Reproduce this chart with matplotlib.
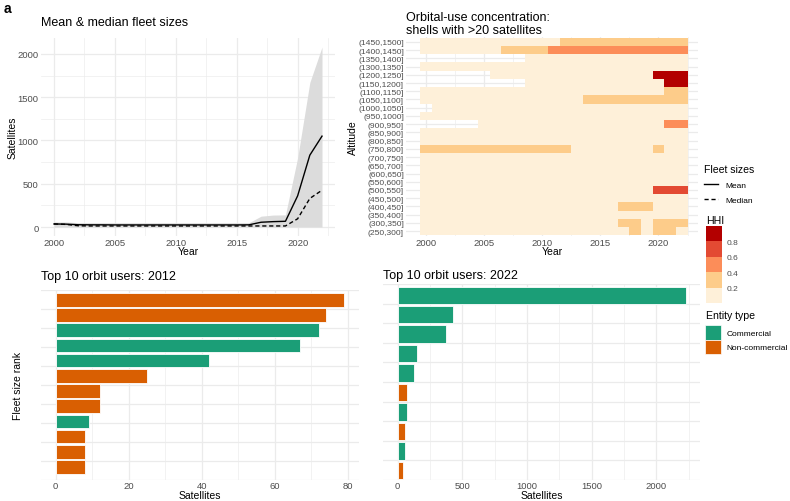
import matplotlib
matplotlib.use("Agg")
import matplotlib.pyplot as plt
import matplotlib as mpl
import numpy as np
from matplotlib.colors import ListedColormap, BoundaryNorm
from matplotlib.lines import Line2D
from matplotlib.patches import Patch
from matplotlib.ticker import MultipleLocator, LinearLocator, NullFormatter

plt.rcParams['font.family'] = ['Liberation Sans', 'DejaVu Sans']

# ---- panel a: mean & median fleet sizes
years = [2000, 2001, 2002, 2003, 2004, 2005, 2006, 2007, 2008, 2009, 2010, 2011,
         2012, 2013, 2014, 2015, 2016, 2017, 2018, 2019, 2020, 2021, 2022]
fleet_mean = [35, 33, 26, 25, 25, 24, 24, 24, 24, 24, 24, 24,
              24, 24, 24, 24, 25, 55, 62, 66, 360, 830, 1050]
fleet_median = [35, 30, 14, 12, 12, 12, 12, 12, 12, 12, 12, 12,
                12, 12, 12, 12, 12, 12, 12, 12, 95, 330, 425]
fleet_upper = [58, 58, 50, 50, 50, 50, 50, 50, 50, 50, 50, 50,
               50, 50, 50, 50, 50, 125, 138, 140, 800, 1670, 2080]
fleet_lower = [0, 0, 0, 0, 0, 0, 0, 0, 0, 0, 0, 0,
               0, 0, 0, 0, 0, 0, 0, 0, 0, 0, 0]

# ---- panel b: HHI by altitude shell (None = no data)
alt_bins = ["(250,300]", "(300,350]", "(350,400]", "(400,450]", "(450,500]",
            "(500,550]", "(550,600]", "(600,650]", "(650,700]", "(700,750]",
            "(750,800]", "(800,850]", "(850,900]", "(900,950]", "(950,1000]",
            "(1000,1050]", "(1050,1100]", "(1100,1150]", "(1150,1200]",
            "(1200,1250]", "(1300,1350]", "(1350,1400]", "(1400,1450]",
            "(1450,1500]"]
N = None
hhi = [
    [.1, .1, .1, .1, .1, .1, .1, .1, .1, .1, .1, .1, .1, .1, .1, .1, .1, .1, .3, .1, .3, .3, .1],
    [.1, .1, .1, .1, .1, .1, .1, .1, .1, .1, .1, .1, .1, .1, .1, .1, .1, .3, .3, .1, .3, .3, .3],
    [.1, .1, .1, .1, .1, .1, .1, .1, .1, .1, .1, .1, .1, .1, .1, .1, .1, .1, .1, .1, .1, .1, .1],
    [.1, .1, .1, .1, .1, .1, .1, .1, .1, .1, .1, .1, .1, .1, .1, .1, .1, .3, .3, .3, .1, .1, .1],
    [.1, .1, .1, .1, .1, .1, .1, .1, .1, .1, .1, .1, .1, .1, .1, .1, .1, .1, .1, .1, .1, .1, .1],
    [.1, .1, .1, .1, .1, .1, .1, .1, .1, .1, .1, .1, .1, .1, .1, .1, .1, .1, .1, .1, .7, .7, .7],
    [.1, .1, .1, .1, .1, .1, .1, .1, .1, .1, .1, .1, .1, .1, .1, .1, .1, .1, .1, .1, .1, .1, .1],
    [.1, .1, .1, .1, .1, .1, .1, .1, .1, .1, .1, .1, .1, .1, .1, .1, .1, .1, .1, .1, .1, .1, .1],
    [.1, .1, .1, .1, .1, .1, .1, .1, .1, .1, .1, .1, .1, .1, .1, .1, .1, .1, .1, .1, .1, .1, .1],
    [.1, .1, .1, .1, .1, .1, .1, .1, .1, .1, .1, .1, .1, .1, .1, .1, .1, .1, .1, .1, .1, .1, .1],
    [.3, .3, .3, .3, .3, .3, .3, .3, .3, .3, .3, .3, .3, .1, .1, .1, .1, .1, .1, .1, .3, .1, .1],
    [.1, .1, .1, .1, .1, .1, .1, .1, .1, .1, .1, .1, .1, .1, .1, .1, .1, .1, .1, .1, .1, .1, .1],
    [.1, .1, .1, .1, .1, .1, .1, .1, .1, .1, .1, .1, .1, .1, .1, .1, .1, .1, .1, .1, .1, .1, .1],
    [N, N, N, N, N, .1, .1, .1, .1, .1, .1, .1, .1, .1, .1, .1, .1, .1, .1, .1, .1, .5, .5],
    [.1, .1, .1, .1, .1, .1, .1, .1, .1, .1, .1, .1, .1, .1, .1, .1, .1, .1, .1, .1, .1, .1, .1],
    [N, .1, .1, .1, .1, .1, .1, .1, .1, .1, .1, .1, .1, .1, .1, .1, .1, .1, .1, .1, .1, .1, .1],
    [.1, .1, .1, .1, .1, .1, .1, .1, .1, .1, .1, .1, .1, .1, .3, .3, .3, .3, .3, .3, .3, .3, .3],
    [.1, .1, .1, .1, .1, .1, .1, .1, .1, .1, .1, .1, .1, .1, .1, .1, .1, .1, .1, .1, .1, .3, .3],
    [N, N, N, N, N, N, N, N, N, .1, .1, .1, .1, .1, .1, .1, .1, .1, .1, .1, .1, .9, .9],
    [N, N, N, N, N, N, .1, .1, .1, .1, .1, .1, .1, .1, .1, .1, .1, .1, .1, .1, .9, .9, .9],
    [.1, .1, .1, .1, .1, .1, .1, .1, .1, .1, .1, .1, .1, .1, .1, .1, .1, .1, .1, .1, .1, .1, .1],
    [N, N, N, N, N, N, N, N, N, .1, .1, .1, .1, .1, .1, .1, .1, .1, .1, .1, .1, .1, .1],
    [.1, .1, .1, .1, .1, .1, .1, .3, .3, .3, .3, .5, .5, .5, .5, .5, .5, .5, .5, .5, .5, .5, .5],
    [.1, .1, .1, .1, .1, .1, .1, .1, .1, .1, .1, .1, .3, .3, .3, .3, .3, .3, .3, .3, .3, .3, .3],
]
hhi_breaks = [0, 0.2, 0.4, 0.6, 0.8, 1.0]
hhi_colors = ["#FEF0D9", "#FDCC8A", "#FC8D59", "#E34A33", "#B30000"]

# ---- panels c, d: top orbit users
top2012_sats = [79, 74, 72, 67, 42, 25, 12, 12, 9, 8, 8, 8]
top2012_type = ["Non-commercial", "Non-commercial", "Commercial", "Commercial",
                "Commercial", "Non-commercial", "Non-commercial", "Non-commercial",
                "Commercial", "Non-commercial", "Non-commercial", "Non-commercial"]
top2022_sats = [2229, 428, 376, 147, 124, 72, 72, 59, 57, 44]
top2022_type = ["Commercial", "Commercial", "Commercial", "Commercial", "Commercial",
                "Non-commercial", "Commercial", "Non-commercial", "Commercial",
                "Non-commercial"]
type_colors = {"Commercial": "#1B9E77", "Non-commercial": "#D95F02"}

W, H = 790, 502
fig = plt.figure(figsize=(W / 100, H / 100), dpi=100)

GRID = "#EBEBEB"
TICK = "#4D4D4D"


def panel(x0, y0, x1, y1):
    return fig.add_axes([x0 / W, 1 - y1 / H, (x1 - x0) / W, (y1 - y0) / H])


def minimal(ax):
    for s in ax.spines.values():
        s.set_visible(False)
    ax.set_axisbelow(True)
    ax.tick_params(which="both", length=0, labelsize=6.8, labelcolor=TICK, pad=1.5)
    ax.grid(which="major", color=GRID, linewidth=0.9)
    ax.grid(which="minor", color=GRID, linewidth=0.45)


# panel a
ax1 = panel(40.6, 39, 335.4, 237)
ax1.fill_between(years, fleet_lower, fleet_upper, color="#DCDCDC", linewidth=0)
ax1.plot(years, fleet_mean, color="black", linewidth=1.0)
ax1.plot(years, fleet_median, color="black", linewidth=1.0, linestyle=(0, (3, 2)))
ax1.set_xlim(1998.9, 2023.1)
ax1.set_ylim(-104, 2184)
ax1.xaxis.set_major_locator(MultipleLocator(5))
ax1.xaxis.set_minor_locator(MultipleLocator(2.5))
ax1.yaxis.set_major_locator(MultipleLocator(500))
ax1.yaxis.set_minor_locator(MultipleLocator(250))
minimal(ax1)
ax1.set_title("Mean & median fleet sizes", loc="left", fontsize=9, pad=9)
ax1.set_xlabel("Year", fontsize=7.5, labelpad=-1)
ax1.set_ylabel("Satellites", fontsize=7.5, labelpad=0)

# panel b
ax2 = panel(406, 38, 698, 237)
cmap = ListedColormap(hhi_colors)
norm = BoundaryNorm(hhi_breaks, cmap.N)
z = np.ma.masked_invalid(np.array(hhi, dtype=float))
x_edges = np.append(np.array(years) - 0.5, years[-1] + 0.5)
y_edges = np.arange(len(alt_bins) + 1) - 0.5
ax2.pcolormesh(x_edges, y_edges, z, cmap=cmap, norm=norm)
ax2.set_xlim(1998.3, 2023.4)
ax2.set_ylim(-0.6, len(alt_bins) - 0.4)
ax2.set_yticks(range(len(alt_bins)))
ax2.set_yticklabels(alt_bins)
ax2.xaxis.set_major_locator(MultipleLocator(5))
ax2.xaxis.set_minor_locator(MultipleLocator(2.5))
minimal(ax2)
ax2.tick_params(axis="y", labelsize=6.1)
ax2.set_title("Orbital-use concentration:\nshells with >20 satellites", loc="left",
              fontsize=9, pad=3, linespacing=1.1)
ax2.set_xlabel("Year", fontsize=7.5, labelpad=-1)
ax2.set_ylabel("Altitude", fontsize=7.5, labelpad=0)


def top_users(ax, sats, kinds, title, step, ylim, pad):
    pos = np.arange(1, len(sats) + 1)
    ax.barh(pos, sats, height=0.9, color=[type_colors[k] for k in kinds],
            edgecolor="white", linewidth=0.6)
    ax.set_ylim(*ylim)
    ax.set_xlim(-0.05 * max(sats), 1.05 * max(sats))
    ax.xaxis.set_major_locator(MultipleLocator(step))
    ax.xaxis.set_minor_locator(MultipleLocator(step / 2))
    ax.yaxis.set_major_locator(LinearLocator(11))
    ax.yaxis.set_major_formatter(NullFormatter())
    minimal(ax)
    ax.tick_params(axis="x", pad=1)
    ax.set_title(title, loc="left", fontsize=9, pad=pad)
    ax.set_xlabel("Satellites", fontsize=7.5, labelpad=0)


ax3 = panel(41.3, 291, 358.5, 481)
top_users(ax3, top2012_sats, top2012_type, "Top 10 orbit users: 2012", 20,
          (12.85, 0.36), 8)
ax3.set_ylabel("Fleet size rank", fontsize=7.5, labelpad=12)

ax4 = panel(383.3, 285, 700.2, 481)
top_users(ax4, top2022_sats, top2022_type, "Top 10 orbit users: 2022", 500,
          (10.5, 0.42), 4)

# legends
leg1 = fig.legend(
    handles=[Line2D([], [], color="black", linewidth=1.0),
             Line2D([], [], color="black", linewidth=1.0, linestyle=(0, (3, 2)))],
    labels=["Mean", "Median"], title="Fleet sizes", loc="upper left",
    bbox_to_anchor=(704 / W, 1 - 165 / H), frameon=False, fontsize=6,
    title_fontsize=7.6, alignment="left", handlelength=1.7, handletextpad=0.9,
    labelspacing=0.85, borderpad=0, borderaxespad=0)

fig.text(706 / W, 1 - 221 / H, "HHI", fontsize=7.6, va="center", ha="left")
cax = fig.add_axes([706 / W, 1 - 304 / H, 16 / W, 77 / H])
cb = mpl.colorbar.ColorbarBase(cax, cmap=cmap, norm=norm, boundaries=hhi_breaks,
                               ticks=[0.2, 0.4, 0.6, 0.8], orientation="vertical")
cb.outline.set_visible(False)
cax.minorticks_off()
cax.tick_params(which="both", length=0, labelsize=6, labelcolor=TICK, pad=3)

fig.text(706 / W, 1 - 316 / H, "Entity type", fontsize=7.6, va="center", ha="left")
leg2 = fig.legend(
    handles=[Patch(facecolor=type_colors["Commercial"], edgecolor="white", linewidth=0.5),
             Patch(facecolor=type_colors["Non-commercial"], edgecolor="white", linewidth=0.5)],
    labels=["Commercial", "Non-commercial"], loc="upper left",
    bbox_to_anchor=(704.5 / W, 1 - 326 / H), frameon=False, fontsize=6,
    handlelength=2.0, handleheight=2.3,
    handletextpad=0.6, labelspacing=0.0, borderpad=0, borderaxespad=0)

fig.text(4 / W, 1 - 9 / H, "a", fontsize=10, fontweight="bold", va="center", ha="left")

fig.savefig("out.png", dpi=100)
